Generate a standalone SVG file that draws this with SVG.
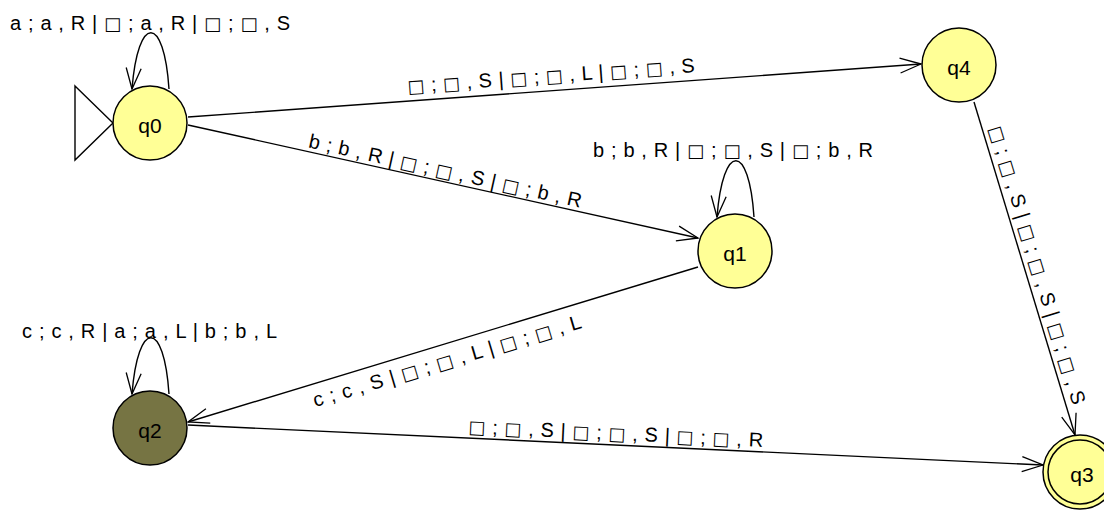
<svg xmlns="http://www.w3.org/2000/svg" width="1104" height="511" viewBox="0 0 1104 511">
<style>
.edge{fill:none;stroke:#000;stroke-width:1.4;marker-end:url(#arr)}
.st{fill:#ffff96;stroke:#000;stroke-width:1.5}
.sel{fill:#767443;stroke:#000;stroke-width:1.5}
.lbl{font-family:"Liberation Sans",Arial,sans-serif;font-size:20px;fill:#000}
.b{font-family:"DejaVu Sans",sans-serif;font-size:18px}
.sl{font-family:"Liberation Sans",Arial,sans-serif;font-size:21px;fill:#000;text-anchor:middle}
</style>
<defs>
<marker id="arr" markerUnits="userSpaceOnUse" markerWidth="30" markerHeight="30" viewBox="-25 -15 30 30" refX="0" refY="0" orient="auto">
<path d="M-21,-7.5 L0,0 L-21,7.5" fill="none" stroke="#000" stroke-width="1.3"/>
</marker>
</defs>
<rect width="1104" height="511" fill="#fff"/>
<g id="connectors">
<path class="edge" d="M188,117 L921,64"/>
<path class="edge" d="M188,125 L698,238"/>
<path class="edge" d="M698,267 L188,422"/>
<path class="edge" d="M188,425 L1043,465"/>
<path class="edge" d="M974,102 L1075,435"/>
<path class="edge" d="M169,89 C164,14 138,14 132,89"/>
<path class="edge" d="M754,217 C749,142 723,142 717,217"/>
<path class="edge" d="M169,394 C164,319 138,319 132,394"/>
<text class="lbl" x="150" y="30" text-anchor="middle" textLength="280" lengthAdjust="spacing">a ; a , R | <tspan class="b">□</tspan> ; a , R | <tspan class="b">□</tspan> ; <tspan class="b">□</tspan> , S</text>
<text class="lbl" x="733" y="157" text-anchor="middle" textLength="280" lengthAdjust="spacing">b ; b , R | <tspan class="b">□</tspan> ; <tspan class="b">□</tspan> , S | <tspan class="b">□</tspan> ; b , R</text>
<text class="lbl" x="149.5" y="338" text-anchor="middle" textLength="255" lengthAdjust="spacing">c ; c , R | a ; a , L | b ; b , L</text>
<text class="lbl" transform="translate(551.5,82.5) rotate(-4.2)" x="0" y="0" text-anchor="middle" textLength="288" lengthAdjust="spacing"><tspan class="b">□</tspan> ; <tspan class="b">□</tspan> , S | <tspan class="b">□</tspan> ; <tspan class="b">□</tspan> , L | <tspan class="b">□</tspan> ; <tspan class="b">□</tspan> , S</text>
<text class="lbl" transform="translate(444,177.5) rotate(12.5)" x="0" y="0" text-anchor="middle" textLength="279" lengthAdjust="spacing">b ; b , R | <tspan class="b">□</tspan> ; <tspan class="b">□</tspan> , S | <tspan class="b">□</tspan> ; b , R</text>
<text class="lbl" transform="translate(449,367.5) rotate(-16.5)" x="0" y="0" text-anchor="middle" textLength="279" lengthAdjust="spacing">c ; c , S | <tspan class="b">□</tspan> ; <tspan class="b">□</tspan> , L | <tspan class="b">□</tspan> ; <tspan class="b">□</tspan> , L</text>
<text class="lbl" transform="translate(615.5,440) rotate(2.7)" x="0" y="0" text-anchor="middle" textLength="295" lengthAdjust="spacing"><tspan class="b">□</tspan> ; <tspan class="b">□</tspan> , S | <tspan class="b">□</tspan> ; <tspan class="b">□</tspan> , S | <tspan class="b">□</tspan> ; <tspan class="b">□</tspan> , R</text>
<text class="lbl" transform="translate(1031,267) rotate(73.2)" x="0" y="0" text-anchor="middle" textLength="290" lengthAdjust="spacing"><tspan class="b">□</tspan> ; <tspan class="b">□</tspan> , S | <tspan class="b">□</tspan> ; <tspan class="b">□</tspan> , S | <tspan class="b">□</tspan> ; <tspan class="b">□</tspan> , S</text>
</g>
<g id="start">
<polygon points="75,86 113,123 75,160" fill="#fff" stroke="#000" stroke-width="1.4"/>
</g>
<g id="q0">
<circle class="st" cx="150" cy="123" r="37"/>
<text class="sl" x="150" y="133">q0</text>
</g>
<g id="q4">
<circle class="st" cx="959" cy="65" r="37"/>
<text class="sl" x="959" y="75">q4</text>
</g>
<g id="q1">
<circle class="st" cx="735" cy="251" r="37"/>
<text class="sl" x="735" y="261">q1</text>
</g>
<g id="q2">
<circle class="sel" cx="150" cy="428" r="37"/>
<text class="sl" x="150" y="438">q2</text>
</g>
<g id="q3">
<circle class="st" cx="1080" cy="472" r="37"/>
<circle cx="1080" cy="472" r="32" fill="none" stroke="#000" stroke-width="1.5"/>
<text class="sl" x="1082" y="482">q3</text>
</g>
</svg>
